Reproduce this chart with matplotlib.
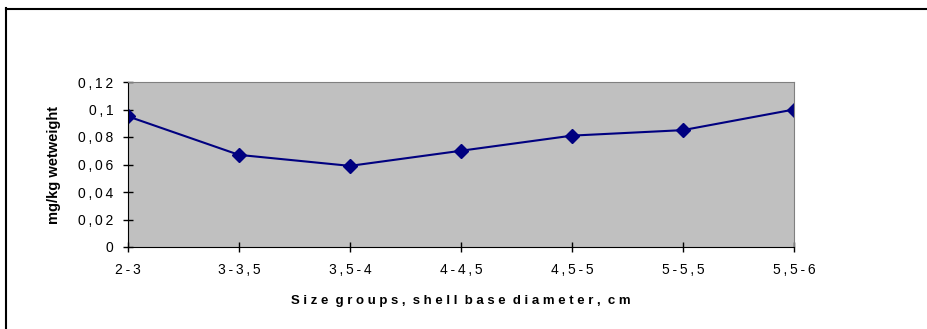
import matplotlib
matplotlib.use('Agg')
import matplotlib.pyplot as plt
from matplotlib.lines import Line2D

# data
groups = ['2-3', '3-3,5', '3,5-4', '4-4,5', '4,5-5', '5-5,5', '5,5-6']
values = [0.095, 0.067, 0.059, 0.070, 0.081, 0.085, 0.100]
yticks = [0, 0.02, 0.04, 0.06, 0.08, 0.1, 0.12]
ylabels = ['0', '0,02', '0,04', '0,06', '0,08', '0,1', '0,12']


def spaced(s):
    # excel-like letter spacing
    return '\u2009'.join(s)


W, H = 928, 329
fig = plt.figure(figsize=(W / 100, H / 100), dpi=100)
plt.rcParams['font.family'] = ['Liberation Sans', 'DejaVu Sans']

# outer frame (only left and top visible)
fig.add_artist(Line2D([6.5 / W, 6.5 / W], [0, 1 - 8 / H], color='black', lw=1.5))
fig.add_artist(Line2D([6.5 / W, 1], [1 - 8.5 / H, 1 - 8.5 / H], color='black', lw=1.5))

ax = fig.add_axes([128 / W, 1 - 247 / H, (794 - 128) / W, (247 - 82) / H])
ax.set_facecolor('#c0c0c0')
x = list(range(len(groups)))
ax.plot(x, values, color='#000080', lw=1.5, marker='D', markersize=7)

ax.set_xlim(0, len(groups) - 1)
ax.set_ylim(0, 0.12)
ax.set_xticks(x)
ax.set_xticklabels([spaced(g) for g in groups], fontsize=10)
ax.set_yticks(yticks)
ax.set_yticklabels([spaced(l) for l in ylabels], fontsize=10)
ax.tick_params(direction='inout', length=7, width=1)
ax.tick_params(axis='x', pad=8)
ax.tick_params(axis='y', pad=7)

for side in ['top', 'right']:
    ax.spines[side].set_color('#808080')
for side in ['left', 'bottom']:
    ax.spines[side].set_color('black')

ax.set_xlabel('S i z e  g r o u p s ,  s h e l l  b a s e  d i a m e t e r ,  c m',
              fontsize=9.5, fontweight='bold', labelpad=13)
ax.set_ylabel('mg/kg wetweight', fontsize=10.5, fontweight='bold', labelpad=12)

fig.savefig('out.png', dpi=100)
